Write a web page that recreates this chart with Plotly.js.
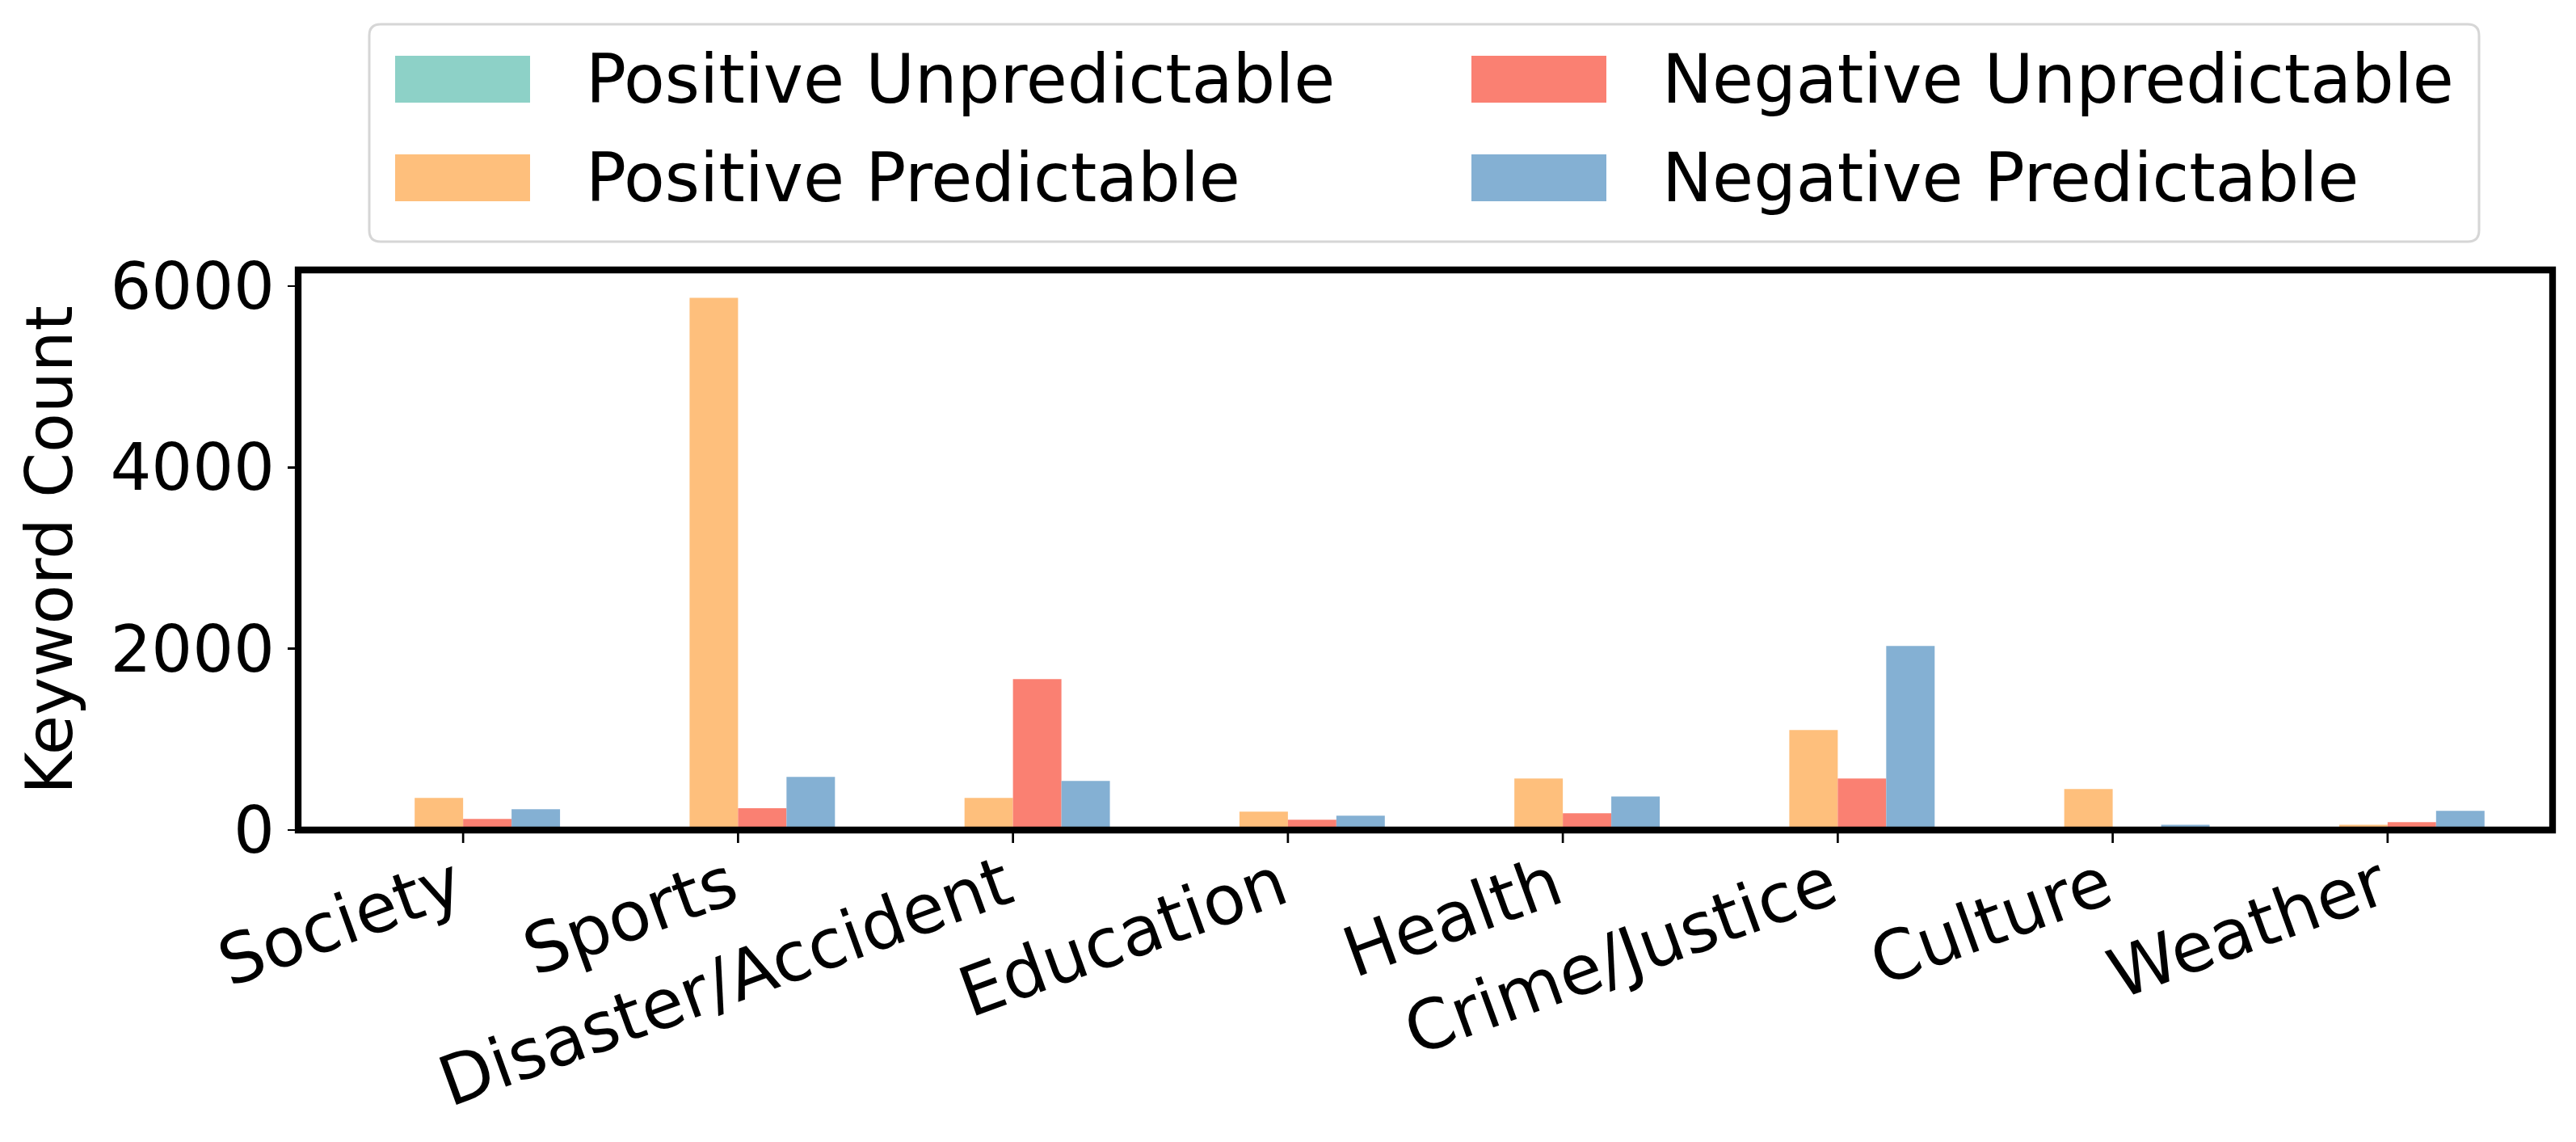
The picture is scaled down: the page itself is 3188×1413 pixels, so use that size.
<!DOCTYPE html>
<html>
<head>
<meta charset="utf-8">
<script src="https://cdn.plot.ly/plotly-3.0.1.min.js"></script>
<style>html,body{margin:0;padding:0;background:#fff;}#chart{width:3188px;height:1413px;}</style>
</head>
<body>
<div id="chart"></div>
<script>
// ---- data ----
const categories = ['Society', 'Sports', 'Disaster/Accident', 'Education', 'Health', 'Crime/Justice', 'Culture', 'Weather'];
const seriesNames = ['Positive Unpredictable', 'Positive Predictable', 'Negative Unpredictable', 'Negative Predictable'];
const positiveUnpredictable = [0, 0, 0, 0, 0, 0, 0, 0];
const positivePredictable = [355, 5870, 354, 202, 568, 1103, 452, 59];
const negativeUnpredictable = [122, 241, 1664, 113, 184, 568, 28, 86];
const negativePredictable = [230, 586, 541, 158, 371, 2030, 59, 211];
const yTicks = [0, 2000, 4000, 6000];
const yTickLabels = ['0', '2000', '4000', '6000'];
const colors = ['#8dd1c7', '#febf7c', '#fa8072', '#84b0d3'];

// ---- layout geometry (pixels) ----
const W = 3188, H = 1413;
const PL = 369, PR = 3159, PT = 334, PB = 1027;
const px2x = p => (p - PL) / (PR - PL);
const px2y = p => (PB - p) / (PB - PT);
const FONT = 'DejaVu Sans, Verdana, sans-serif';

const values = [positiveUnpredictable, positivePredictable, negativeUnpredictable, negativePredictable];
const traces = values.map((v, i) => ({
  type: 'bar',
  x: categories,
  y: v,
  name: seriesNames[i],
  marker: {color: colors[i], line: {width: 0}},
  showlegend: false,
  hoverinfo: 'x+y+name'
}));

// custom legend (matplotlib-like large patches)
const shapes = [];
const annotations = [];
(function () {
  const x0 = px2x(457), x1 = px2x(3068), y0 = px2y(30), y1 = px2y(299);
  const rx = 14 / (PR - PL), ry = 14 / (PB - PT);
  const path = `M${x0 + rx},${y0} L${x1 - rx},${y0} Q${x1},${y0} ${x1},${y0 - ry} L${x1},${y1 + ry} Q${x1},${y1} ${x1 - rx},${y1} L${x0 + rx},${y1} Q${x0},${y1} ${x0},${y1 + ry} L${x0},${y0 - ry} Q${x0},${y0} ${x0 + rx},${y0} Z`;
  shapes.push({type: 'path', xref: 'paper', yref: 'paper', path: path,
    line: {color: '#d6d6d6', width: 3}, fillcolor: 'rgba(255,255,255,0.8)', layer: 'above'});
})();
const legendPos = [
  {px: 489, py: 69, tx: 727},
  {px: 489, py: 191, tx: 727},
  {px: 1821, py: 69, tx: 2059},
  {px: 1821, py: 191, tx: 2059}
];
legendPos.forEach((p, i) => {
  shapes.push({type: 'rect', xref: 'paper', yref: 'paper',
    x0: px2x(p.px), x1: px2x(p.px + 167), y0: px2y(p.py + 58), y1: px2y(p.py),
    fillcolor: colors[i], line: {width: 0}, layer: 'above'});
  annotations.push({xref: 'paper', yref: 'paper', x: px2x(p.tx - 4), y: px2y(p.py + 29),
    xanchor: 'left', yanchor: 'middle', showarrow: false, text: seriesNames[i],
    font: {family: FONT, size: 83, color: '#000'}});
});
// x tick marks (one per category, below the bottom spine)
categories.forEach(c => {
  shapes.push({type: 'line', xref: 'x', yref: 'paper', x0: c, x1: c, y0: 0, y1: -16 / (PB - PT),
    line: {color: '#000', width: 2.7}, layer: 'above'});
});
// plot frame (spines)
shapes.push({type: 'rect', xref: 'paper', yref: 'paper', x0: 0, x1: 1, y0: 0, y1: 1,
  line: {color: '#000', width: 8.3}, fillcolor: 'rgba(0,0,0,0)', layer: 'above'});

const layout = {
  width: W, height: H,
  margin: {l: PL, r: W - PR, t: PT, b: H - PB, pad: 0},
  paper_bgcolor: '#fff', plot_bgcolor: '#fff',
  barmode: 'group', bargap: 0.295, bargroupgap: 0,
  showlegend: false,
  font: {family: FONT, size: 80, color: '#000'},
  xaxis: {
    type: 'category', range: [-0.6, 7.6], showgrid: false, zeroline: false, showline: false,
    ticks: '', tickangle: -20, ticklabelshift: -10, ticklabelstandoff: 4,
    tickfont: {family: FONT, size: 85, color: '#000'}
  },
  yaxis: {
    range: [0, 6178], showgrid: false, zeroline: false, showline: false,
    tickvals: yTicks, ticktext: yTickLabels,
    ticks: 'outside', ticklen: 12, tickwidth: 2.7, tickcolor: '#000',
    tickfont: {family: FONT, size: 80, color: '#000'},
    title: {text: 'Keyword Count', font: {family: FONT, size: 80, color: '#000'}, standoff: 20}
  },
  shapes: shapes,
  annotations: annotations
};

Plotly.newPlot('chart', traces, layout, {staticPlot: true, displayModeBar: false});
</script>
</body>
</html>
